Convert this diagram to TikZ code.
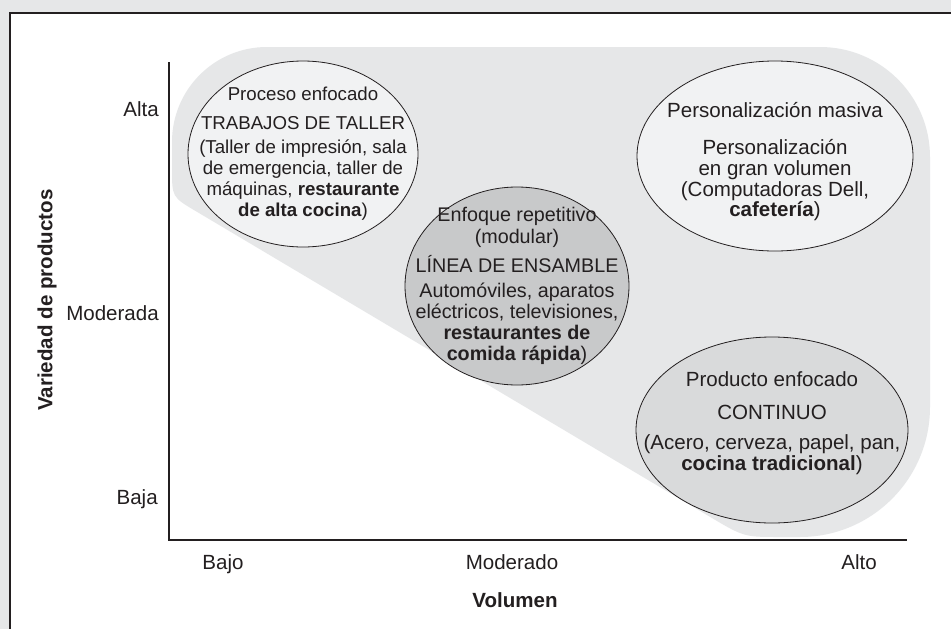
\documentclass[tikz,border=0pt]{standalone}
\usepackage{fontspec}
\setmainfont{Liberation Sans}
\usetikzlibrary{shapes.geometric}
\definecolor{margingray}{HTML}{E6E7E8}
\definecolor{regiongray}{HTML}{E6E7E8}
\definecolor{lightfill}{HTML}{F1F2F3}
\definecolor{darkfill}{HTML}{C8C9CA}
\definecolor{midfill}{HTML}{D9DADB}
\definecolor{ink}{HTML}{231F20}
\begin{document}
\begin{tikzpicture}[x=0.75pt,y=-0.75pt,
  every node/.style={font=\fontsize{15.4pt}{15.75pt}\selectfont, text=ink, inner sep=0pt},
  txt/.style={anchor=base},
  smalltxt/.style={anchor=base, font=\fontsize{14pt}{15.75pt}\selectfont},
  midtxt/.style={anchor=base, font=\fontsize{14.8pt}{15.75pt}\selectfont},
  oval/.style={draw=ink, line width=0.6pt, ellipse, inner sep=0pt}]
\useasboundingbox (0,0) rectangle (951,629);
% frame
\fill[margingray] (0,0) rectangle (951,629);
\fill[white] (10,13) rectangle (951,629);
\draw[ink, line width=1.2pt] (10,629) -- (10,13) -- (951,13);
% shaded region
\fill[regiongray] (172,169) -- (172,142) .. controls (172,89.5) and (214.5,47) .. (267,47)
  -- (820,47) .. controls (880.8,47) and (930,96.2) .. (930,157)
  -- (930,407) .. controls (930,478.8) and (871.8,537) .. (800,537)
  -- (780,537) .. controls (744,537) .. (709.6,516.6)
  -- (196.1,211.3) .. controls (172,197) .. (172,169) -- cycle;
% ellipses
\node[oval, fill=lightfill, minimum width=172.5pt, minimum height=139.5pt] (e1) at (303,154) {};
\node[oval, fill=lightfill, minimum width=207pt, minimum height=142.5pt] (e2) at (775,156) {};
\node[oval, fill=darkfill, minimum width=168pt, minimum height=148.5pt] (e3) at (517,286) {};
\node[oval, fill=midfill, minimum width=204pt, minimum height=139.5pt] (e4) at (772,430) {};
% texts ellipse 1
\node[smalltxt] (e1a) at (303,100) {Proceso enfocado};
\node[smalltxt] (e1b) at (303,129) {TRABAJOS DE TALLER};
\node[smalltxt] (e1c) at (303,153) {(Taller de impresión, sala};
\node[smalltxt] (e1d) at (303,174) {de emergencia, taller de};
\node[smalltxt] (e1e) at (303,195) {máquinas, \textbf{restaurante}};
\node[smalltxt] (e1f) at (303,216) {\textbf{de alta cocina})};
% texts ellipse 2
\node[txt] (e2a) at (775,117) {Personalización masiva};
\node[txt] (e2b) at (775,154) {Personalización};
\node[txt] (e2c) at (775,175) {en gran volumen};
\node[txt] (e2d) at (775,196) {(Computadoras Dell,};
\node[txt] (e2e) at (775,216) {\textbf{cafetería})};
% texts ellipse 3
\node[midtxt] (e3a) at (517,221) {Enfoque repetitivo};
\node[midtxt] (e3b) at (517,243) {(modular)};
\node[midtxt] (e3c) at (517,272) {LÍNEA DE ENSAMBLE};
\node[midtxt] (e3d) at (517,297) {Automóviles, aparatos};
\node[midtxt] (e3e) at (517,318) {eléctricos, televisiones,};
\node[midtxt] (e3f) at (517,339) {\textbf{restaurantes de}};
\node[midtxt] (e3g) at (517,360) {\textbf{comida rápida})};
% texts ellipse 4
\node[txt] (e4a) at (772,386) {Producto enfocado};
\node[txt] (e4b) at (772,419) {CONTINUO};
\node[txt] (e4c) at (772,449) {(Acero, cerveza, papel, pan,};
\node[txt] (e4d) at (772,470) {\textbf{cocina tradicional})};
% axes
\coordinate (ytop) at (169,62);
\coordinate (orig) at (169,540);
\coordinate (xend) at (907,540);
\draw[ink, line width=1.1pt] (ytop) -- (orig) -- (xend);
% axis labels
\node[anchor=base east] (alta) at (159,116) {Alta};
\node[anchor=base east] (moderada) at (159,320) {Moderada};
\node[anchor=base east] (baja) at (158,504) {Baja};
\node[txt] (bajo) at (223,569) {Bajo};
\node[txt] (moderado) at (512,569) {Moderado};
\node[txt] (alto) at (859,569) {Alto};
\node[txt, font=\fontsize{15.4pt}{15.75pt}\selectfont\bfseries] (volumen) at (515,607) {Volumen};
\node[rotate=90, font=\fontsize{15.4pt}{15.75pt}\selectfont\bfseries] (ylabel) at (47,300) {Variedad de productos};
\end{tikzpicture}
\end{document}
